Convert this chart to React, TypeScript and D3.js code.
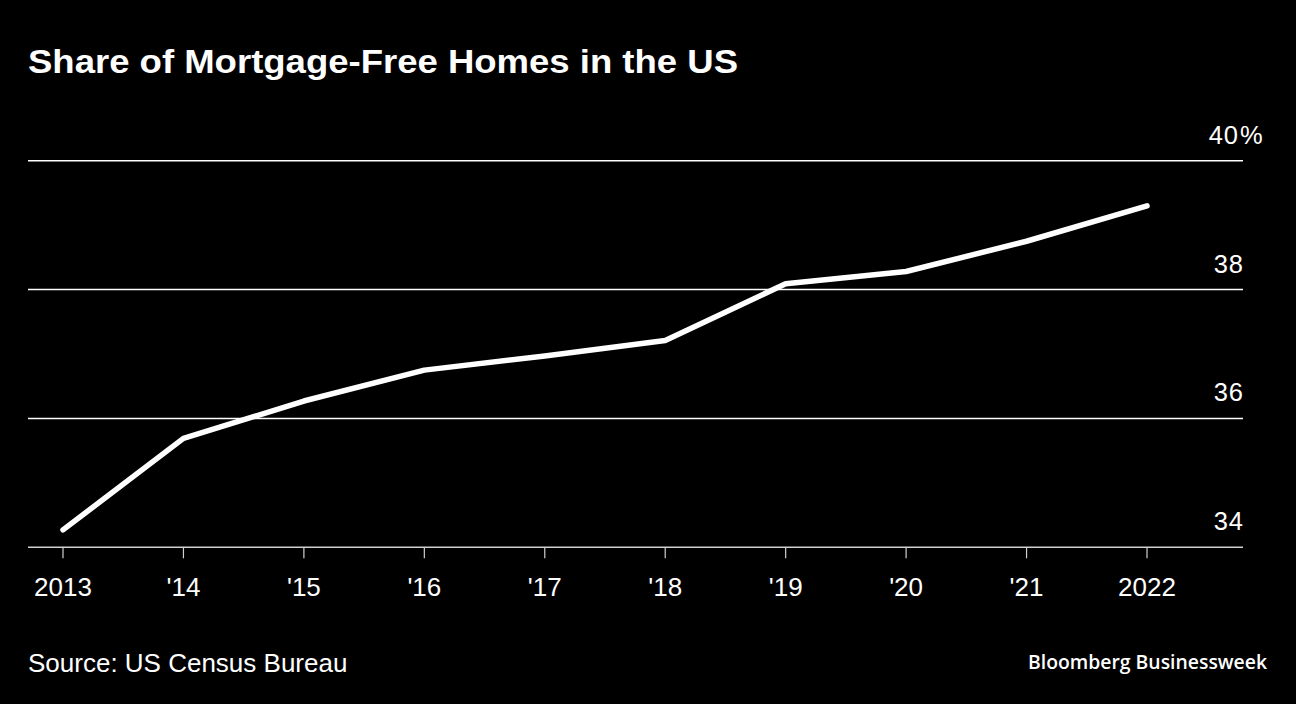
import React from "react";
import * as d3 from "d3";

const years = [2013, 2014, 2015, 2016, 2017, 2018, 2019, 2020, 2021, 2022];
const yearLabels = ["2013", "'14", "'15", "'16", "'17", "'18", "'19", "'20", "'21", "2022"];
const shareValues = [34.27, 35.69, 36.27, 36.75, 36.97, 37.21, 38.09, 38.28, 38.75, 39.3];
const yTicks = [34, 36, 38, 40];

const W = 1296;
const H = 704;
const FONT = "'Liberation Sans', Arial, sans-serif";

export default function App() {
  const x = d3.scaleLinear().domain([2013, 2022]).range([63, 1147]);
  const y = d3.scaleLinear().domain([34, 40]).range([547.3, 160.7]);
  const line = d3
    .line<number>()
    .x((_, i) => x(years[i]))
    .y((d) => y(d));
  const gridLeft = 28;
  const gridRight = 1243;

  return (
    <svg
      width={W}
      height={H}
      style={{ position: "absolute", left: 0, top: 0, background: "#000" }}
    >
      <rect x={0} y={0} width={W} height={H} fill="#000" />
      <text
        x={28}
        y={73}
        fill="#fff"
        fontFamily={FONT}
        fontWeight="bold"
        fontSize={34}
        textLength={710}
        lengthAdjust="spacingAndGlyphs"
      >
        Share of Mortgage-Free Homes in the US
      </text>

      {yTicks.map((t) => (
        <g key={t}>
          <line
            x1={gridLeft}
            x2={gridRight}
            y1={y(t)}
            y2={y(t)}
            stroke={t === 34 ? "#d0d0d0" : "#fff"}
            strokeWidth={1.5}
          />
          <text
            x={t === 40 ? gridRight - 4 : gridRight + 1}
            y={y(t) - 17}
            fill="#fff"
            fontFamily={FONT}
            fontSize={25.5}
            letterSpacing={1}
            textAnchor="end"
          >
            {t}
          </text>
          {t === 40 ? (
            <text
              x={gridRight - 3}
              y={y(t) - 17}
              fill="#fff"
              fontFamily={FONT}
              fontSize={25.5}
              textAnchor="start"
            >
              %
            </text>
          ) : null}
        </g>
      ))}

      {years.map((yr, i) => (
        <g key={yr}>
          <line
            x1={x(yr)}
            x2={x(yr)}
            y1={y(34)}
            y2={y(34) + 11}
            stroke="#d0d0d0"
            strokeWidth={1.2}
          />
          <text
            x={x(yr)}
            y={595.5}
            fill="#fff"
            fontFamily={FONT}
            fontSize={26}
            textAnchor="middle"
          >
            {yearLabels[i]}
          </text>
        </g>
      ))}

      <path
        d={line(shareValues) || ""}
        fill="none"
        stroke="#fff"
        strokeWidth={5.5}
        strokeLinecap="round"
        strokeLinejoin="round"
      />

      <text x={28} y={671.5} fill="#fff" fontFamily={FONT} fontSize={26}>
        Source: US Census Bureau
      </text>
      <text
        x={1267}
        y={669}
        fill="#fff"
        fontFamily="'Open Sans', 'Noto Sans', sans-serif"
        fontWeight={600}
        fontSize={20}
        textLength={239}
        lengthAdjust="spacingAndGlyphs"
        textAnchor="end"
      >
        Bloomberg Businessweek
      </text>
    </svg>
  );
}
